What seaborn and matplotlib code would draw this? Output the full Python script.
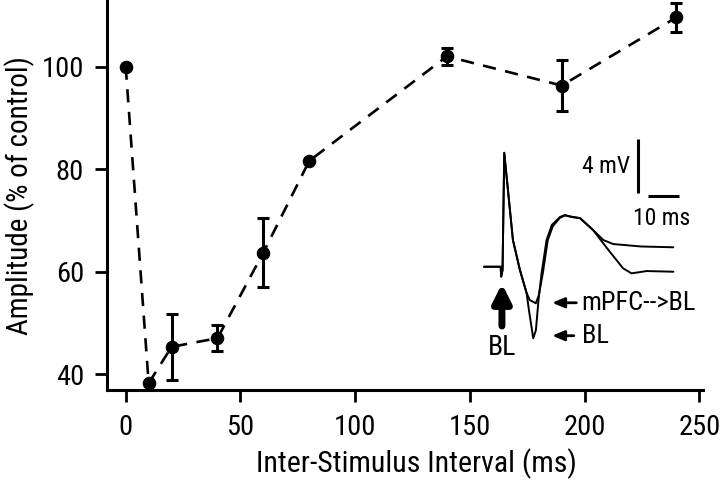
import numpy as np
import pandas as pd
import matplotlib
matplotlib.use("Agg")
import matplotlib.pyplot as plt
import seaborn as sns

# main data: paired-pulse amplitude vs interval
isi_ms = [0, 10, 20, 40, 60, 80, 140, 190, 240]
amplitude = [100.0, 38.2, 45.3, 47.0, 63.7, 81.6, 102.0, 96.3, 109.6]
sem = [0.0, 0.0, 6.4, 2.5, 6.7, 0.0, 1.7, 5.0, 2.8]

# inset traces (ms, mV)
bl_t = [-5.7, -0.3, -0.15, 0.3, 0.85, 3.65, 5.9, 8.06, 8.8, 10.2, 11.06, 11.9,
        12.9, 14.5, 16.2, 18.8, 20.4, 22.7, 25.3, 29.5, 34.9, 39.2, 41.9, 46.8, 55.4]
bl_v = [0.0, 0.0, -0.74, -0.25, 8.44, 1.98, -0.24, -1.95, -3.2, -5.3, -4.7, -2.47,
        -0.47, 1.98, 3.09, 3.68, 3.83, 3.68, 3.6, 2.72, 1.11, -0.12, -0.49, -0.32, -0.37]
mpfc_t = [-5.7, -0.3, -0.15, 0.3, 0.85, 3.65, 5.9, 8.06, 9.1, 11.06, 12.0, 13.3,
          14.9, 16.5, 18.8, 20.4, 22.7, 25.3, 29.5, 32.8, 36.0, 45.0, 55.4]
mpfc_v = [0.0, 0.0, -0.74, -0.25, 8.44, 1.98, -0.24, -1.95, -2.47, -2.71, -2.1, -0.47,
          1.98, 3.0, 3.62, 3.8, 3.7, 3.6, 2.72, 1.98, 1.68, 1.5, 1.44]

sns.set_theme(style="ticks")
plt.rcParams["font.family"] = ["Roboto Condensed", "DejaVu Sans Condensed",
                               "Liberation Sans Narrow", "Liberation Sans"]
plt.rcParams["font.stretch"] = "condensed"
plt.rcParams["text.color"] = "black"
plt.rcParams["axes.labelcolor"] = "black"
plt.rcParams["xtick.color"] = "black"
plt.rcParams["ytick.color"] = "black"

fig = plt.figure(figsize=(7.2, 4.83), dpi=100)
ax = fig.add_axes([107 / 720, 93 / 483, 596 / 720, 389 / 483])

df = pd.DataFrame({"isi": isi_ms, "amp": amplitude})
ax.errorbar(isi_ms, amplitude, yerr=sem, fmt="none", ecolor="black",
            elinewidth=2.2, capsize=4.3, capthick=2.2, zorder=2)
sns.lineplot(data=df, x="isi", y="amp", ax=ax, color="black", linewidth=1.9,
             marker="o", markersize=9, markeredgecolor="black", zorder=3)
ax.lines[-1].set_dashes([5, 3.6])

ax.set_xlim(-8.15, 251.6)
ax.set_ylim(36.88, 112.8)
ax.set_xticks([0, 50, 100, 150, 200, 250])
ax.set_yticks([40, 60, 80, 100])
for s in ["top", "right"]:
    ax.spines[s].set_visible(False)
for s in ["left", "bottom"]:
    ax.spines[s].set_linewidth(2.2)
    ax.spines[s].set_color("black")
ax.tick_params(axis="both", length=8.5, width=2.0, color="black", labelsize=20.5)
ax.tick_params(axis="x", pad=9)
ax.tick_params(axis="y", pad=8)
ax.set_xlabel("Inter-Stimulus Interval (ms)", fontsize=21.5)
ax.set_ylabel("Amplitude (% of control)", fontsize=21, labelpad=5)
ax.xaxis.set_label_coords(0.52, -0.15)

# inset with example traces
ins = fig.add_axes([470 / 720, 123 / 483, 230 / 720, 230 / 483])
ins.set_xlim(-10.2, 64)
ins.set_ylim(-6.91, 10.13)
ins.axis("off")
sns.lineplot(x=bl_t, y=bl_v, ax=ins, color="black", linewidth=1.4, sort=False)
sns.lineplot(x=mpfc_t, y=mpfc_v, ax=ins, color="black", linewidth=1.4, sort=False)

# scale bars
ins.plot([44.0, 44.0], [5.44, 9.44], color="black", linewidth=2.2, solid_capstyle="butt")
ins.plot([47.3, 57.3], [5.26, 5.26], color="black", linewidth=2.2, solid_capstyle="butt")
ins.text(41.3, 7.4, "4 mV", ha="right", va="center", fontsize=17)
ins.text(51.5, 3.6, "10 ms", ha="center", va="center", fontsize=17)

# stimulus arrow and labels
ins.annotate("", xy=(0.1, -1.05), xytext=(0.1, -4.6),
             arrowprops=dict(arrowstyle="-|>,head_width=0.45,head_length=0.9",
                             color="black", linewidth=5))
ins.text(0.1, -6.0, "BL", ha="center", va="center", fontsize=20)
ins.annotate("", xy=(15.4, -2.67), xytext=(25.0, -2.67),
             arrowprops=dict(arrowstyle="-|>,head_width=0.25,head_length=0.6",
                             color="black", linewidth=2))
ins.text(25.8, -2.67, "mPFC-->BL", ha="left", va="center", fontsize=19)
ins.annotate("", xy=(15.4, -5.11), xytext=(24.2, -5.11),
             arrowprops=dict(arrowstyle="-|>,head_width=0.25,head_length=0.6",
                             color="black", linewidth=2))
ins.text(25.8, -5.11, "BL", ha="left", va="center", fontsize=19)

fig.savefig("out.png", dpi=100)
